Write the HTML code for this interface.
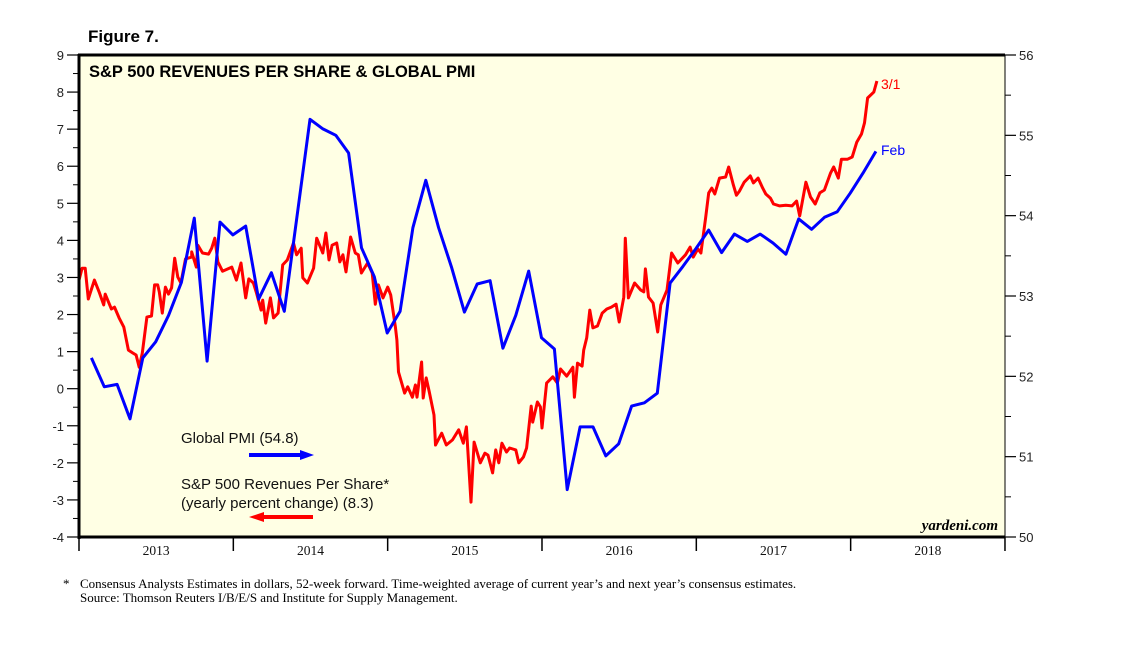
<!DOCTYPE html>
<html><head><meta charset="utf-8">
<style>
html,body{margin:0;padding:0;background:#fff;}
body{width:1138px;height:641px;overflow:hidden;font-family:"Liberation Sans",sans-serif;}
</style></head>
<body>
<svg id="chart" width="1138" height="641" viewBox="0 0 1138 641" xmlns="http://www.w3.org/2000/svg">
  <text x="88" y="42" font-family="Liberation Sans" font-weight="bold" font-size="17">Figure 7.</text>
  <rect x="79" y="55" width="926" height="482" fill="#FFFFE4"/>
  <g id="axes"></g>
  <g id="series"></g>
  <line x1="79" y1="54" x2="79" y2="539" stroke="#000" stroke-width="3"/>
  <line x1="78" y1="55" x2="1005" y2="55" stroke="#000" stroke-width="3"/>
  <line x1="78" y1="537" x2="1005" y2="537" stroke="#000" stroke-width="3"/>
  <line x1="1005" y1="55" x2="1005" y2="537" stroke="#000" stroke-width="1"/>
  <text x="89" y="77" font-family="Liberation Sans" font-weight="bold" font-size="16.5">S&amp;P 500 REVENUES PER SHARE &amp; GLOBAL PMI</text>
  <text x="181" y="443" font-size="15" fill="#111">Global PMI (54.8)</text>
  <line x1="249" y1="455" x2="302" y2="455" stroke="#0000FF" stroke-width="4"/>
  <polygon points="300,450 314,455 300,460" fill="#0000FF"/>
  <text x="181" y="489" font-size="15" fill="#111">S&amp;P 500 Revenues Per Share*</text>
  <text x="181" y="508" font-size="15" fill="#111">(yearly percent change) (8.3)</text>
  <line x1="262" y1="517" x2="313" y2="517" stroke="#FF0000" stroke-width="4"/>
  <polygon points="264,512 249,517 264,522" fill="#FF0000"/>
  <text x="881" y="89" font-size="14" fill="#FF0000">3/1</text>
  <text x="881" y="155" font-size="14" fill="#0000FF">Feb</text>
  <text x="998" y="530" text-anchor="end" font-family="Liberation Serif" font-style="italic" font-weight="bold" font-size="15">yardeni.com</text>
  <text x="63" y="588" font-family="Liberation Serif" font-size="13">*</text>
  <text x="80" y="588" font-family="Liberation Serif" font-size="13">Consensus Analysts Estimates in dollars, 52-week forward. Time-weighted average of current year’s and next year’s consensus estimates.</text>
  <text x="80" y="602" font-family="Liberation Serif" font-size="13">Source: Thomson Reuters I/B/E/S and Institute for Supply Management.</text>
</svg>
<script>
const leftTicks=[-4,-3,-2,-1,0,1,2,3,4,5,6,7,8,9];
const rightTicks=[50,51,52,53,54,55,56];
const yearLabels=["2013","2014","2015","2016","2017","2018"];
const pmiValues=[52.23,51.87,51.90,51.47,52.23,52.43,52.76,53.17,53.97,52.19,53.92,53.76,53.87,52.96,53.29,52.81,54.01,55.20,55.08,55.00,54.78,53.60,53.24,52.54,52.81,53.85,54.44,53.85,53.36,52.80,53.15,53.19,52.35,52.76,53.31,52.48,52.34,50.59,51.37,51.37,51.01,51.16,51.63,51.67,51.79,53.16,53.37,53.59,53.82,53.54,53.77,53.68,53.77,53.66,53.52,53.96,53.83,53.98,54.05,54.28,54.53,54.8];
const revDates=[0.00,.02,.04,.06,.10,.13,.16,.17,.21,.23,.26,.29,.32,.35,.37,.39,.41,.44,.47,.49,.51,.52,.54,.56,.58,.60,.62,.64,.66,.69,.73,.73,.76,.77,.80,.84,.86,.88,.90,.93,.99,1.02,1.05,1.08,1.10,1.13,1.15,1.18,1.19,1.21,1.24,1.26,1.29,1.32,1.35,1.39,1.41,1.44,1.45,1.48,1.52,1.54,1.58,1.60,1.62,1.64,1.67,1.69,1.71,1.73,1.76,1.79,1.81,1.83,1.87,1.90,1.92,1.94,1.97,2.00,2.02,2.05,2.06,2.07,2.11,2.13,2.16,2.18,2.19,2.22,2.23,2.25,2.27,2.30,2.31,2.35,2.38,2.42,2.46,2.49,2.51,2.54,2.56,2.60,2.63,2.65,2.68,2.70,2.72,2.74,2.77,2.79,2.83,2.85,2.88,2.90,2.93,2.94,2.97,2.99,3.00,3.03,3.07,3.10,3.12,3.16,3.20,3.21,3.23,3.26,3.27,3.29,3.31,3.33,3.36,3.39,3.42,3.45,3.48,3.50,3.53,3.54,3.56,3.60,3.64,3.66,3.67,3.69,3.72,3.75,3.77,3.81,3.84,3.88,3.93,3.96,3.98,4.01,4.03,4.06,4.08,4.10,4.12,4.15,4.19,4.21,4.24,4.26,4.28,4.31,4.35,4.37,4.40,4.43,4.45,4.48,4.50,4.54,4.58,4.62,4.65,4.67,4.71,4.74,4.77,4.80,4.83,4.87,4.89,4.92,4.94,4.98,5.01,5.04,5.07,5.09,5.11,5.15,5.17];
const revValues=[2.93,3.25,3.25,2.42,2.93,2.61,2.26,2.55,2.15,2.20,1.91,1.66,1.04,0.96,0.91,0.58,0.96,1.93,1.96,2.80,2.80,2.61,2.04,2.74,2.55,2.72,3.52,3.01,2.85,3.50,3.55,3.69,3.28,3.87,3.66,3.63,3.79,4.06,3.42,3.17,3.28,2.93,3.39,2.45,2.96,2.85,2.58,2.12,2.39,1.77,2.45,1.91,2.04,3.34,3.47,3.93,3.61,3.79,2.99,2.85,3.25,4.06,3.66,4.20,3.47,3.87,3.93,3.42,3.61,3.15,4.09,3.66,3.61,3.12,3.39,3.12,2.28,2.80,2.45,2.74,2.53,1.66,1.31,0.45,-0.12,0.05,-0.23,0.10,-0.23,0.72,-0.25,0.29,-0.09,-0.71,-1.52,-1.20,-1.52,-1.38,-1.11,-1.47,-1.03,-3.06,-1.44,-2.00,-1.74,-1.79,-2.27,-1.65,-2.00,-1.47,-1.71,-1.60,-1.65,-2.00,-1.84,-1.60,-0.47,-0.90,-0.36,-0.49,-1.06,0.15,0.32,0.15,0.53,0.34,0.58,-0.23,0.69,0.61,1.04,1.37,2.12,1.64,1.69,2.04,2.15,2.20,2.28,1.80,2.47,4.06,2.45,2.85,2.66,2.61,3.23,2.47,2.31,1.53,2.26,2.66,3.66,3.39,3.61,3.82,3.55,3.77,3.66,4.60,5.28,5.41,5.25,5.68,5.71,5.98,5.49,5.22,5.33,5.57,5.74,5.55,5.68,5.41,5.25,5.14,4.98,4.93,4.95,4.93,5.06,4.66,5.57,5.17,4.98,5.28,5.36,5.82,5.98,5.68,6.19,6.19,6.25,6.65,6.87,7.17,7.84,8.00,8.3];

const NS="http://www.w3.org/2000/svg";
const X0=79,YW=154.33,TOP=55,BOT=537;
function xScale(yrs){return X0+yrs*YW;}
function yLeft(v){return BOT-(v+4)*(BOT-TOP)/13;}
function yRight(v){return BOT-(v-50)*(BOT-TOP)/6;}
function mk(tag,attrs,parent){const e=document.createElementNS(NS,tag);for(const k in attrs)e.setAttribute(k,attrs[k]);parent.appendChild(e);return e;}
const axes=document.getElementById('axes');
const series=document.getElementById('series');

leftTicks.forEach(v=>{
  const y=yLeft(v);
  const t=mk('line',{x1:67,y1:y,x2:79,y2:y,stroke:'#000','stroke-width':1.2},axes);
  
  
  if(v<9){const m=mk('line',{x1:73,y1:yLeft(v+0.5),x2:79,y2:yLeft(v+0.5),stroke:'#000','stroke-width':1},axes);
    
    }
  const l=mk('text',{x:64,y:y+5,'text-anchor':'end','font-size':13,fill:'#222'},axes);
  
  
  l.textContent=v;
});
rightTicks.forEach(v=>{
  const y=yRight(v);
  const t=mk('line',{x1:1005,y1:y,x2:1016,y2:y,stroke:'#000','stroke-width':1.2},axes);
  
  
  if(v<56){const m=mk('line',{x1:1005,y1:yRight(v+0.5),x2:1011,y2:yRight(v+0.5),stroke:'#000','stroke-width':1},axes);
    
    }
  const l=mk('text',{x:1019,y:y+5,'font-size':13,fill:'#222'},axes);
  
  
  l.textContent=v;
});
for(let i=0;i<=yearLabels.length;i++){
  const x=xScale(i);
  const t=mk('line',{x1:x,y1:537,x2:x,y2:551,stroke:'#000','stroke-width':1.5},axes);
  
  
}
yearLabels.forEach((lab,i)=>{
  const l=mk('text',{x:xScale(i+0.5),y:555,'text-anchor':'middle','font-family':'Liberation Serif','font-size':13.5,fill:'#111'},axes);
  
  
  l.textContent=lab;
});

const rp=revDates.map((d,i)=>xScale(d).toFixed(1)+','+yLeft(revValues[i]).toFixed(1)).join(' ');
const red=mk('polyline',{points:rp,fill:'none',stroke:'#FF0000','stroke-width':3,'stroke-linejoin':'round'},series);


const bp=pmiValues.map((v,i)=>xScale((i+1)/12-0.003).toFixed(1)+','+yRight(v).toFixed(1)).join(' ');
const blue=mk('polyline',{points:bp,fill:'none',stroke:'#0000FF','stroke-width':3,'stroke-linejoin':'round'},series);


</script>
</body></html>
